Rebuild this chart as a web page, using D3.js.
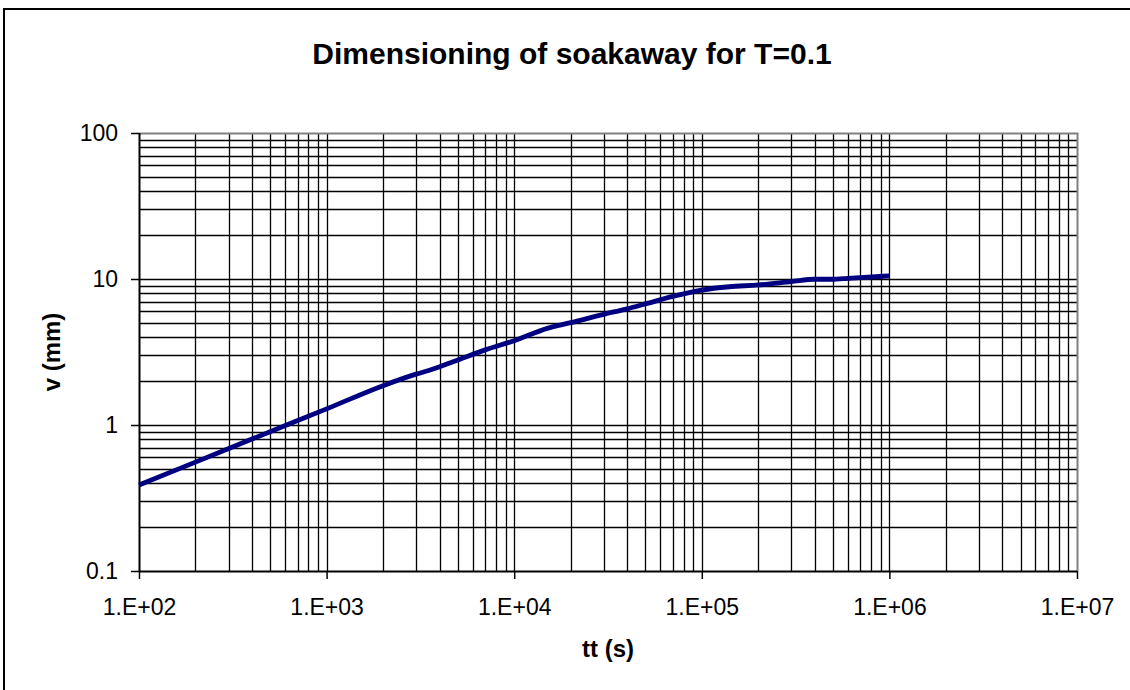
<!DOCTYPE html>
<html lang="en">
<head>
    <meta charset="UTF-8">
    <title>Dimensioning of soakaway</title>
    <script src="https://d3js.org/d3.v7.min.js"></script>
    <style>
        body{
            margin:0;
            background:#fff;
        }
        svg{
            display:block;
            font-family:Arial,'Liberation Sans',sans-serif;
        }
    </style>
</head>
<body>
    <div id="chart"></div>
    <script>
        // curve
        const tt = [100, 200, 500, 1000, 2000, 3000, 3500, 5000, 7000, 10000, 15000, 20000, 30000, 40000, 50000, 70000, 100000, 140000, 200000, 300000, 400000, 500000, 600000, 1000000];
        const v  = [0.388, 0.557, 0.9, 1.29, 1.86, 2.23, 2.36, 2.79, 3.27, 3.78, 4.59, 5.02, 5.73, 6.25, 6.75, 7.6, 8.4, 8.85, 9.1, 9.6, 9.96, 9.96, 10.1, 10.5];
        const xTicks = [1e2, 1e3, 1e4, 1e5, 1e6, 1e7];
        const xTickLabels = ['1.E+02','1.E+03','1.E+04','1.E+05','1.E+06','1.E+07'];
        const yTicks = [0.1, 1, 10, 100];
        const yTickLabels = ['0.1','1','10','100'];

        const width = 1130, height = 690;
        const pLeft = 139, pRight = 1077, pTop = 133, pBottom = 571;

        const svg = d3.select('#chart').append('svg')
            .attr('width',width)
            .attr('height',height);

        // outer frame, runs off the right and bottom edge
        svg.append('rect')
            .attr('x',4).attr('y',9)
            .attr('width',1140).attr('height',700)
            .attr('fill','none')
            .attr('stroke','#000')
            .attr('stroke-width',2);

        const xScale = d3.scaleLog().domain([1e2,1e7]).range([pLeft,pRight]);
        const yScale = d3.scaleLog().domain([0.1,100]).range([pBottom,pTop]);

        // minor + major grid values
        const xGrid = [], yGrid = [];
        for(let e=2;e<7;e++) for(let m=1;m<10;m++) xGrid.push(m*Math.pow(10,e));
        for(let e=-1;e<2;e++) for(let m=1;m<10;m++) yGrid.push(+(m*Math.pow(10,e)).toPrecision(3));

        const grid = svg.append('g');
        grid.selectAll('.gx')
            .data(xGrid.filter(d=>d>1e2))
            .join('line')
            .attr('x1',d=>Math.round(xScale(d))+0.5)
            .attr('x2',d=>Math.round(xScale(d))+0.5)
            .attr('y1',pTop).attr('y2',pBottom)
            .attr('stroke','#000')
            .attr('stroke-width',1.3);
        grid.selectAll('.gy')
            .data(yGrid.filter(d=>d>0.1))
            .join('line')
            .attr('y1',d=>Math.round(yScale(d))+0.5)
            .attr('y2',d=>Math.round(yScale(d))+0.5)
            .attr('x1',pLeft).attr('x2',pRight)
            .attr('stroke','#000')
            .attr('stroke-width',1.3);

        // plot border (gray top/right)
        svg.append('path')
            .attr('d',`M${pLeft},${pTop+0.5}H${pRight+0.5}V${pBottom}`)
            .attr('fill','none')
            .attr('stroke','#808080')
            .attr('stroke-width',2);

        // axes
        const xAxis = svg.append('g')
            .attr('transform',`translate(0,${pBottom})`)
            .call(d3.axisBottom(xScale).tickValues(xTicks).tickSize(8).tickPadding(20)
                .tickFormat((d,i)=>xTickLabels[i]));
        const yAxis = svg.append('g')
            .attr('transform',`translate(${pLeft},0)`)
            .call(d3.axisLeft(yScale).tickValues(yTicks).tickSize(8).tickPadding(13)
                .tickFormat((d,i)=>yTickLabels[i]));
        [xAxis,yAxis].forEach(a=>{
            a.select('.domain').attr('stroke','#000').attr('stroke-width',2);
            a.selectAll('.tick line').attr('stroke','#000').attr('stroke-width',1.5);
            a.selectAll('.tick text')
                .attr('font-family','Arial,"Liberation Sans",sans-serif')
                .attr('font-size',23)
                .attr('fill','#000');
        });
        xAxis.select('.domain').attr('d',`M${pLeft},0.5H${pRight}`);
        yAxis.select('.domain').attr('d',`M0.5,${pBottom}V${pTop}`);

        // curve
        const line = d3.line()
            .x((d,i)=>xScale(tt[i]))
            .y(d=>yScale(d))
            .curve(d3.curveMonotoneX);
        svg.append('path')
            .datum(v)
            .attr('d',line)
            .attr('fill','none')
            .attr('stroke','#000080')
            .attr('stroke-width',4.8)
            .attr('stroke-linejoin','round');

        // titles
        svg.append('text')
            .attr('x',572).attr('y',64)
            .attr('text-anchor','middle')
            .attr('font-size',30)
            .attr('font-weight','bold')
            .text('Dimensioning of soakaway for T=0.1');
        svg.append('text')
            .attr('x',(pLeft+pRight)/2).attr('y',657)
            .attr('text-anchor','middle')
            .attr('font-size',24)
            .attr('font-weight','bold')
            .text('tt (s)');
        svg.append('text')
            .attr('transform',`translate(60,${(pTop+pBottom)/2}) rotate(-90)`)
            .attr('text-anchor','middle')
            .attr('font-size',24)
            .attr('font-weight','bold')
            .text('v (mm)');
    </script>
</body>
</html>
